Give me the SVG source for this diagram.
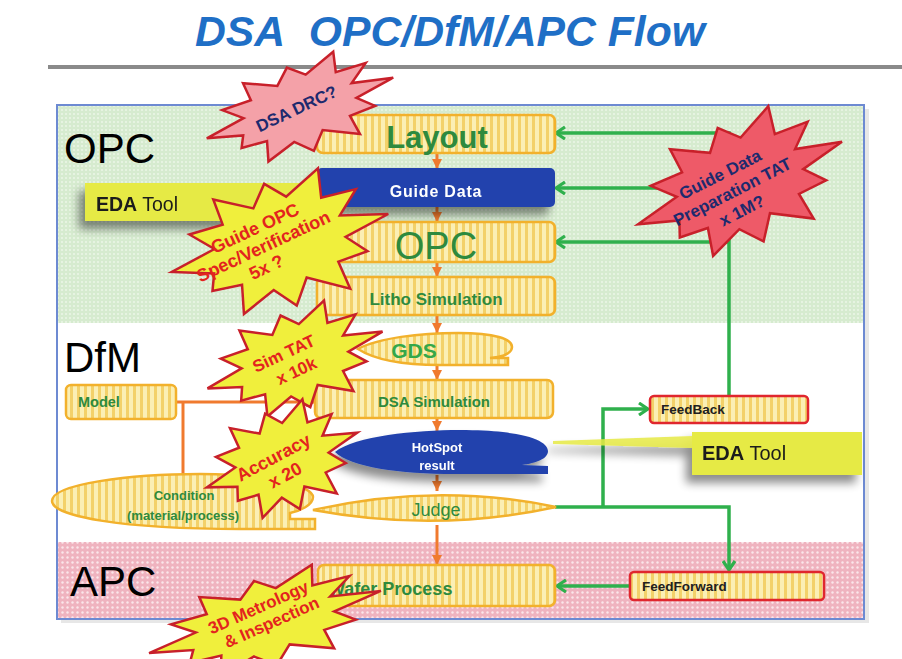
<svg xmlns="http://www.w3.org/2000/svg" width="902" height="659" viewBox="0 0 902 659">
<style>
text{font-family:"Liberation Sans",Arial,sans-serif}
.box{fill:url(#stripes);stroke:#f2b12c;stroke-width:2.5}
.rbox{fill:url(#stripes);stroke:#e0262e;stroke-width:2.5}
.blue{fill:#2243ad}
.eda{fill:#e6ea45}
.gtxt{fill:#2e8a3e;font-weight:bold}
.wtxt{fill:#ffffff;font-weight:bold}
.ktxt{fill:#202020;font-weight:bold}
.lbl{fill:#000;font-size:42px}
.burstY{fill:#f0ef3c;stroke:#c8202a;stroke-width:2.5}
.burstP{fill:#f4a1a8;stroke:#c8202a;stroke-width:2.5}
.burstR{fill:#ee5a68;stroke:#c8202a;stroke-width:2.5}
.rtxt{fill:#e3241e;font-weight:bold;text-anchor:middle}
.ntxt{fill:#1d2a6e;font-weight:bold;text-anchor:middle}
.gline{fill:none;stroke:#2fb04c;stroke-width:3.5}
.oline{fill:none;stroke:#f07a2e;stroke-width:3}
</style>
<defs>
<pattern id="stripes" width="7" height="10" patternUnits="userSpaceOnUse">
<rect width="7" height="10" fill="#fbefb4"/>
<rect x="0" width="3" height="10" fill="#f3d169"/>
</pattern>
<pattern id="greenDots" width="4" height="4" patternUnits="userSpaceOnUse">
<rect width="4" height="4" fill="#d6ebcf"/>
<circle cx="2" cy="2" r="0.9" fill="#eef7ea"/>
</pattern>
<pattern id="pinkDots" width="5" height="5" patternUnits="userSpaceOnUse">
<rect width="5" height="5" fill="#efb3bf"/>
<circle cx="2.5" cy="2.5" r="1.2" fill="#fbe6ea"/>
</pattern>
<filter id="shadow" x="-20%" y="-40%" width="140%" height="200%">
<feGaussianBlur in="SourceAlpha" stdDeviation="5"/>
<feOffset dx="-6" dy="8" result="b"/>
<feComponentTransfer><feFuncA type="linear" slope="0.45"/></feComponentTransfer>
<feMerge><feMergeNode/><feMergeNode in="SourceGraphic"/></feMerge>
</filter>
<polygon id="star" vector-effect="non-scaling-stroke" points="100,0 58,15.5 73.6,42.5 46,46 50,86.6 15,56 0,90 -16.3,60.9 -47.5,82.3 -42.4,42.4 -69.3,40 -63.8,17.1 -100,0 -58,-15.5 -76.2,-44 -45.2,-45.2 -47.5,-82.3 -15,-56 0,-85 16,-59.9 50,-86.6 46,-46 77.9,-45 58,-15.5"/>
<marker id="gArrowEnd" viewBox="0 0 14 14" refX="12" refY="7" markerWidth="14" markerHeight="14" markerUnits="userSpaceOnUse" orient="auto">
<path d="M3,1 L12,7 L3,13" fill="none" stroke="#2fb04c" stroke-width="3.2"/>
</marker>
<marker id="oArrow" viewBox="0 0 10 10" refX="10" refY="5" markerWidth="10" markerHeight="10" markerUnits="userSpaceOnUse" orient="auto">
<path d="M0,0 L10,5 L0,10 Z" fill="#f07a2e"/>
</marker>
</defs>

<rect width="902" height="659" fill="#ffffff"/>

<!-- title -->
<g id="title">
<text x="450" y="46" text-anchor="middle" font-size="42" font-weight="bold" font-style="italic" fill="#1f6fc6" textLength="510" lengthAdjust="spacingAndGlyphs">DSA&#160; OPC/DfM/APC Flow</text>
<rect x="48" y="65" width="854" height="4" fill="#8a8a8a"/>
</g>

<!-- frame & regions -->
<g id="frame">
<rect x="61" y="109" width="808" height="514" fill="#d0d0d0" opacity="0.5"/>
<rect x="57" y="105" width="807" height="218" fill="url(#greenDots)"/>
<rect x="57" y="323" width="807" height="219" fill="#ffffff"/>
<rect x="57" y="542" width="807" height="77" fill="url(#pinkDots)"/>
<rect x="57" y="105" width="807" height="514" fill="none" stroke="#6d8ad2" stroke-width="2"/>
<text class="lbl" x="64" y="163" font-size="44">OPC</text>
<text class="lbl" x="64" y="372" font-size="40">DfM</text>
<text class="lbl" x="70" y="596" font-size="41">APC</text>
</g>

<!-- connectors -->
<g id="connectors">
<line class="oline" x1="437" y1="153" x2="437" y2="169" marker-end="url(#oArrow)"/>
<line class="oline" x1="437" y1="207" x2="437" y2="222" marker-end="url(#oArrow)"/>
<line class="oline" x1="437" y1="262" x2="437" y2="277" marker-end="url(#oArrow)"/>
<line class="oline" x1="437" y1="315" x2="437" y2="333" marker-end="url(#oArrow)"/>
<line class="oline" x1="437" y1="365" x2="437" y2="380" marker-end="url(#oArrow)"/>
<line class="oline" x1="437" y1="418" x2="437" y2="431" marker-end="url(#oArrow)"/>
<line class="oline" x1="437" y1="475" x2="437" y2="491" marker-end="url(#oArrow)"/>
<line class="oline" x1="437" y1="525" x2="437" y2="565" marker-end="url(#oArrow)"/>
<line class="oline" x1="176" y1="402" x2="316" y2="402" marker-end="url(#oArrow)"/>
<line class="oline" x1="183" y1="402" x2="183" y2="474"/>

<polyline class="gline" points="729,395 729,133 556,133" marker-end="url(#gArrowEnd)"/>
<line class="gline" x1="729" y1="188" x2="556" y2="188" marker-end="url(#gArrowEnd)"/>
<line class="gline" x1="729" y1="242" x2="556" y2="242" marker-end="url(#gArrowEnd)"/>
<polyline class="gline" points="555,507 729,507 729,570" marker-end="url(#gArrowEnd)"/>
<polyline class="gline" points="603,507 603,409 648,409" marker-end="url(#gArrowEnd)"/>
<line class="gline" x1="630" y1="586" x2="557" y2="586" marker-end="url(#gArrowEnd)"/>
</g>

<!-- nodes -->
<g id="eda-top" filter="url(#shadow)">
<rect class="eda" x="85" y="183" width="232" height="38"/>
<text x="96" y="211" font-size="19.5" fill="#1a1a1a"><tspan font-weight="bold">EDA</tspan> Tool</text>
</g>

<g id="eda-right" filter="url(#shadow)">
<polygon class="eda" points="553,441 692,436 692,448 553,444" opacity="0.85"/>
<rect class="eda" x="692" y="432" width="170" height="43"/>
<text x="702" y="460" font-size="20" fill="#1a1a1a"><tspan font-weight="bold">EDA</tspan> Tool</text>
</g>

<g id="layout">
<rect class="box" x="317" y="115" width="238" height="38" rx="6"/>
<text class="gtxt" x="437" y="148" font-size="31" text-anchor="middle">Layout</text>
</g>

<g id="guide-data" filter="url(#shadow)">
<rect class="blue" x="317" y="168" width="238" height="39" rx="5"/>
<text class="wtxt" x="436" y="197" font-size="16" letter-spacing="0.8" text-anchor="middle">Guide Data</text>
</g>

<g id="opc">
<rect class="box" x="317" y="222" width="238" height="40" rx="6"/>
<text x="436" y="259" font-size="38" fill="#2e8a3e" text-anchor="middle">OPC</text>
</g>

<g id="litho">
<rect class="box" x="317" y="277" width="238" height="38" rx="6"/>
<text class="gtxt" x="436" y="305" font-size="17" text-anchor="middle">Litho Simulation</text>
</g>

<g id="gds">
<path class="box" d="M358,349 C378,338 420,333 458,333 C495,333 512,339 512,347 C512,354 500,357 490,358 L508,358 L508,365 L440,365 C400,365 375,360 358,349 Z"/>
<text x="414" y="358" font-size="21" font-weight="bold" fill="#34a84a" text-anchor="middle">GDS</text>
</g>

<g id="dsa-sim">
<rect class="box" x="315" y="380" width="238" height="38" rx="6"/>
<text class="gtxt" x="434" y="407" font-size="15" text-anchor="middle">DSA Simulation</text>
</g>

<g id="hotspot" filter="url(#shadow)">
<path class="blue" d="M335,452 C355,436 415,430 460,430 C522,430 548,440 548,451 C548,459 536,463 522,465 L548,466 L548,474 L455,474 C400,474 350,467 335,452 Z"/>
<text class="wtxt" x="437" y="452" font-size="13" text-anchor="middle">HotSpot</text>
<text class="wtxt" x="437" y="470" font-size="13" text-anchor="middle">result</text>
</g>

<g id="judge">
<path class="box" d="M313,510 Q437,482 556,507 Q437,533 313,510 Z"/>
<text x="436" y="516" font-size="18" fill="#2e8a3e" text-anchor="middle">Judge</text>
</g>

<g id="model">
<rect class="box" x="66" y="385" width="110" height="34" rx="5"/>
<text class="gtxt" x="78" y="407" font-size="14.5">Model</text>
</g>

<g id="condition">
<path class="box" d="M315,529 L240,529 C120,529 52,516 52,501 C52,484 130,474 200,474 C268,474 313,486 313,497 C313,505 300,511 290,513 L290,519 L315,519 Z"/>
<text class="gtxt" x="184" y="500" font-size="13" text-anchor="middle">Condition</text>
<text class="gtxt" x="183" y="520" font-size="13" text-anchor="middle">(material/process)</text>
</g>

<g id="wafer">
<rect class="box" x="318" y="565" width="237" height="41" rx="6"/>
<text class="gtxt" x="328" y="595" font-size="18">Wafer Process</text>
</g>

<g id="feedback">
<rect class="rbox" x="650" y="396" width="158" height="27" rx="4"/>
<text class="ktxt" x="661" y="414" font-size="13.5">FeedBack</text>
</g>

<g id="feedforward">
<rect class="rbox" x="630" y="572" width="194" height="28" rx="4"/>
<text class="ktxt" x="642" y="591" font-size="13.5">FeedForward</text>
</g>

<!-- callout bursts -->
<g id="burst-dsa-drc">
<use href="#star" class="burstP" transform="translate(300,108) rotate(-18) scale(0.98,0.5)"/>
<text class="ntxt" font-size="17" transform="translate(299,114) rotate(-25)">DSA DRC?</text>
</g>

<g id="burst-guide-opc">
<use href="#star" class="burstY" transform="translate(280,243) rotate(-15) scale(1.12,0.72)"/>
<text class="rtxt" font-size="18" transform="translate(266,252) rotate(-25)"><tspan x="0" y="-20">Guide OPC</tspan><tspan x="0" y="0">Spec/Verification</tspan><tspan x="-6" y="20">5x ?</tspan></text>
</g>

<g id="burst-guide-data">
<use href="#star" class="burstR" transform="translate(740,183) rotate(-22) scale(1.1,0.7)"/>
<text class="ntxt" font-size="17" transform="translate(735,197) rotate(-27)"><tspan x="-3" y="-21">Guide Data</tspan><tspan x="0" y="0">Preparation TAT</tspan><tspan x="0" y="21">x 1M?</tspan></text>
</g>

<g id="burst-sim-tat">
<use href="#star" class="burstY" transform="translate(295,360) rotate(-18) scale(0.92,0.55)"/>
<text class="rtxt" font-size="17" transform="translate(290,367) rotate(-25)"><tspan x="0" y="-9">Sim TAT</tspan><tspan x="4" y="12">x  10k</tspan></text>
</g>

<g id="burst-accuracy">
<use href="#star" class="burstY" transform="translate(282,460) rotate(-20) scale(0.8,0.58)"/>
<text class="rtxt" font-size="18" transform="translate(280,470) rotate(-28)"><tspan x="0" y="-8">Accuracy</tspan><tspan x="2" y="13">x 20</tspan></text>
</g>

<g id="burst-metrology">
<use href="#star" class="burstY" transform="translate(265,622) rotate(-15) scale(1.2,0.5)"/>
<text class="rtxt" font-size="17" transform="translate(264,620) rotate(-24)"><tspan x="0" y="-8">3D Metrology</tspan><tspan x="6" y="11">&amp; Inspection</tspan></text>
</g>
</svg>
